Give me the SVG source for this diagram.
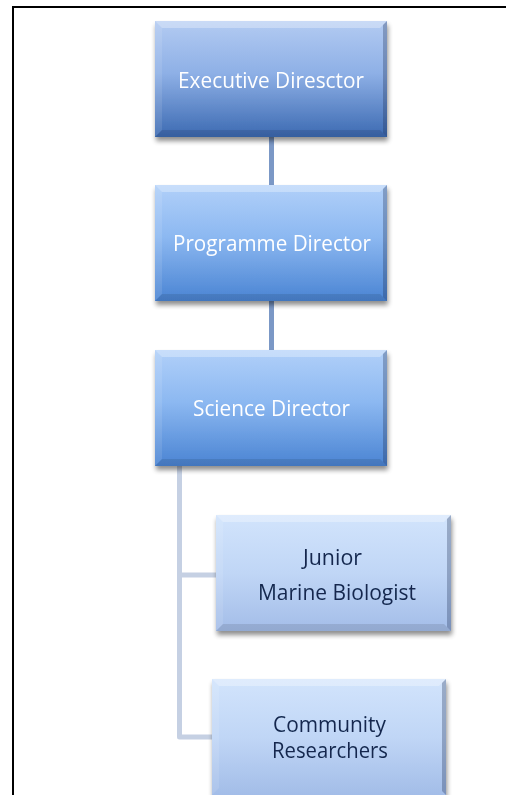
<svg xmlns="http://www.w3.org/2000/svg" width="506" height="795" viewBox="0 0 506 795">
<defs>
<linearGradient id="gExec" x1="0" y1="0" x2="0" y2="1">
<stop offset="0" stop-color="#b3cbf2"/>
<stop offset="0.45" stop-color="#8eb0e6"/>
<stop offset="1" stop-color="#3c6ab2"/>
</linearGradient>
<linearGradient id="gMid" x1="0" y1="0" x2="0" y2="1">
<stop offset="0" stop-color="#b1d0f9"/>
<stop offset="0.45" stop-color="#8cb8f1"/>
<stop offset="1" stop-color="#4a84d3"/>
</linearGradient>
<linearGradient id="gLow" x1="0" y1="0" x2="0" y2="1">
<stop offset="0" stop-color="#d2e4fc"/>
<stop offset="0.5" stop-color="#c0d6f6"/>
<stop offset="1" stop-color="#a3bde8"/>
</linearGradient>
<filter id="sh" x="-10%" y="-10%" width="120%" height="130%">
<feGaussianBlur in="SourceAlpha" stdDeviation="2.5"/>
<feOffset dx="1" dy="4" result="b"/>
<feComponentTransfer><feFuncA type="linear" slope="0.45"/></feComponentTransfer>
<feMerge><feMergeNode/><feMergeNode in="SourceGraphic"/></feMerge>
</filter>
</defs>
<style>
.frame{stroke:#000;stroke-width:2;fill:none}
.conD{stroke:#7b98c6;stroke-width:5;fill:none}
.conL{stroke:#c5d0e3;stroke-width:5;fill:none;stroke-linejoin:round}
.bt{fill:#ffffff;opacity:0.3}
.bb{fill:#000000;opacity:0.1}
.bl{fill:#ffffff;opacity:0.1}
.br{fill:#1a2c50;opacity:0.3}
.tw{font-family:"Open Sans","Liberation Sans",sans-serif;font-size:22px;fill:#ffffff;text-anchor:middle}
.td{font-family:"Open Sans","Liberation Sans",sans-serif;font-size:21px;fill:#13284e;text-anchor:middle}
</style>
<rect x="0" y="0" width="506" height="795" fill="#ffffff"/>
<g id="frame">
<path class="frame" d="M13 795 V7 H506"/>
</g>
<g id="connectors">
<line class="conD" x1="271.5" y1="137" x2="271.5" y2="185"/>
<line class="conD" x1="271.5" y1="301" x2="271.5" y2="350"/>
<path class="conL" d="M179.5 466 V737 H213"/>
<line class="conL" x1="179.5" y1="575" x2="217" y2="575"/>
</g>
<g id="node-executive" filter="url(#sh)">
<rect x="155" y="21" width="232" height="116" fill="url(#gExec)"/>
<polygon class="bt" points="155,21 387,21 380,28 162,28"/>
<polygon class="bl" points="155,21 162,28 162,130 155,137"/>
<polygon class="br" points="387,21 387,137 383,133 383,25"/>
<polygon class="bb" points="155,137 387,137 380,130 162,130"/>
<text class="tw" x="271" y="88" textLength="186" lengthAdjust="spacingAndGlyphs">Executive Diresctor</text>
</g>
<g id="node-programme" filter="url(#sh)">
<rect x="155" y="185" width="232" height="116" fill="url(#gMid)"/>
<polygon class="bt" points="155,185 387,185 380,192 162,192"/>
<polygon class="bl" points="155,185 162,192 162,294 155,301"/>
<polygon class="br" points="387,185 387,301 383,297 383,189"/>
<polygon class="bb" points="155,301 387,301 380,294 162,294"/>
<text class="tw" x="272" y="251" textLength="198" lengthAdjust="spacingAndGlyphs">Programme Director</text>
</g>
<g id="node-science" filter="url(#sh)">
<rect x="155" y="350" width="232" height="116" fill="url(#gMid)"/>
<polygon class="bt" points="155,350 387,350 380,357 162,357"/>
<polygon class="bl" points="155,350 162,357 162,459 155,466"/>
<polygon class="br" points="387,350 387,466 383,462 383,354"/>
<polygon class="bb" points="155,466 387,466 380,459 162,459"/>
<text class="tw" x="271.5" y="416" textLength="157" lengthAdjust="spacingAndGlyphs">Science Director</text>
</g>
<g id="node-junior" filter="url(#sh)">
<rect x="216" y="515" width="235" height="116" fill="url(#gLow)"/>
<polygon class="bt" points="216,515 451,515 444,522 223,522"/>
<polygon class="bl" points="216,515 223,522 223,624 216,631"/>
<polygon class="br" points="451,515 451,631 447,627 447,519"/>
<polygon class="bb" points="216,631 451,631 444,624 223,624"/>
<text class="td" x="332.5" y="565" textLength="59" lengthAdjust="spacingAndGlyphs">Junior</text>
<text class="td" x="337" y="600" textLength="158" lengthAdjust="spacingAndGlyphs">Marine Biologist</text>
</g>
<g id="node-community" filter="url(#sh)">
<rect x="212" y="679" width="234" height="116" fill="url(#gLow)"/>
<polygon class="bt" points="212,679 446,679 439,686 219,686"/>
<polygon class="bl" points="212,679 219,686 219,788 212,795"/>
<polygon class="br" points="446,679 446,795 442,791 442,683"/>
<text class="td" x="329.5" y="732" textLength="113" lengthAdjust="spacingAndGlyphs">Community</text>
<text class="td" x="330" y="758" textLength="116" lengthAdjust="spacingAndGlyphs">Researchers</text>
</g>
</svg>
